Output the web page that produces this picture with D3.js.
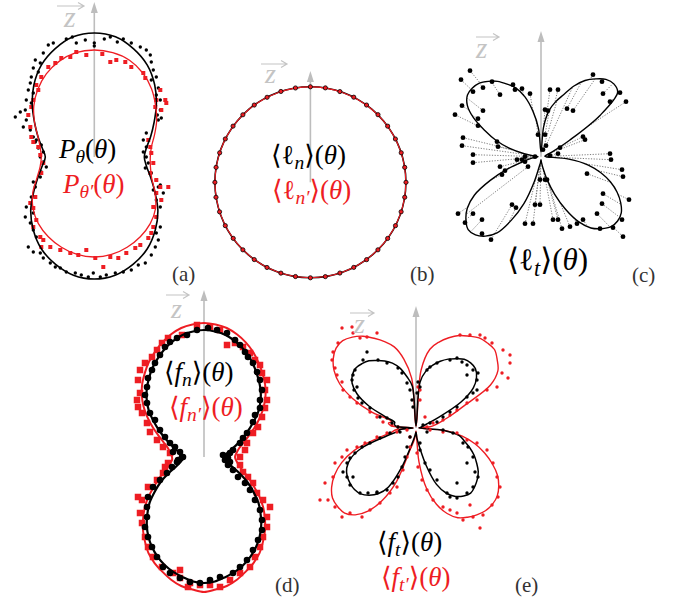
<!DOCTYPE html>
<html>
<head>
<meta charset="utf-8">
<script src="https://cdnjs.cloudflare.com/ajax/libs/d3/7.8.5/d3.min.js"></script>
<style>
    body { margin: 0; background: #fff; }
    svg { display: block; }
</style>
</head>
<body>
<script>
const RED = '#ee1d23'
const GREY = '#bdbdbd'
const SERIF = "'Liberation Serif', 'DejaVu Serif', serif"

// angle grids, degrees clockwise from the z axis
const angles10 = [0, 10, 20, 30, 40, 50, 60, 70, 80, 90, 100, 110, 120, 130, 140, 150, 160, 170,
    180, 190, 200, 210, 220, 230, 240, 250, 260, 270, 280, 290, 300, 310, 320, 330, 340, 350]
const angles5 = [0, 5, 10, 15, 20, 25, 30, 35, 40, 45, 50, 55, 60, 65, 70, 75, 80, 85,
    90, 95, 100, 105, 110, 115, 120, 125, 130, 135, 140, 145, 150, 155, 160, 165, 170, 175,
    180, 185, 190, 195, 200, 205, 210, 215, 220, 225, 230, 235, 240, 245, 250, 255, 260, 265,
    270, 275, 280, 285, 290, 295, 300, 305, 310, 315, 320, 325, 330, 335, 340, 345, 350, 355]
const angles9 = [0, 9, 18, 27, 36, 45, 54, 63, 72, 81, 90, 99, 108, 117, 126, 135, 144, 153, 162, 171,
    180, 189, 198, 207, 216, 225, 234, 243, 252, 261, 270, 279, 288, 297, 306, 315, 324, 333, 342, 351]

// (a) P_theta
const aBlackR = [124, 122, 115, 106, 94, 81, 69, 60, 53, 50, 53, 60, 70, 83, 95, 106, 114, 120,
    122, 120, 114, 106, 95, 83, 70, 60, 53, 49, 53, 60, 69, 81, 94, 106, 115, 122]
const aRedR = [107, 106, 103, 97, 89, 80, 72, 64, 58, 56, 57, 61, 70, 80, 87, 92, 96, 99,
    100, 99, 96, 92, 87, 80, 71, 61, 55, 53, 55, 60, 69, 79, 88, 96, 102, 106]
const aBlackPts = [[-46, 112], [-41, 114], [-28, 118], [-22, 120], [-18, 114], [-9, 117], [10, 118], [16, 120],
    [23, 115], [29, 118], [37, 114], [46, 110], [52, 107], [56, 102], [57, 95], [-51, 104], [-59, 97], [-54, 94],
    [-61, 89], [-63, 80], [-56, 85], [59, 87], [62, 80], [57, 77], [64, 69], [62, 62], [66, 57], [66, 47], [63, 42],
    [64, 37], [67, 39], [-64, 74], [-66, 67], [-61, 64], [-68, 57], [-63, 54], [-69, 47], [-79, 40], [-74, 45],
    [-68, 37], [-71, 30], [-64, 27], [-61, 20], [-58, 17], [-59, 15], [-53, 12], [-56, 9], [-51, 5], [-54, 0],
    [-51, -5], [-48, -10], [-53, -15], [-54, -20], [-61, -25], [-59, -30], [52, 24], [49, 17], [52, 10], [49, 5],
    [52, 0], [54, -6], [51, -11], [57, -16], [62, -23], [66, -28], [59, -33], [-63, -40], [-68, -50], [-61, -56],
    [-69, -60], [-64, -66], [-61, -73], [-58, -80], [-66, -90], [-61, -95], [-54, -96], [-51, -101], [-44, -106],
    [-39, -110], [-34, -111], [-28, -115], [-19, -116], [-13, -118], [-6, -120], [-1, -116], [6, -120], [12, -118],
    [21, -116], [29, -115], [37, -113], [44, -108], [51, -106], [57, -98], [61, -90], [64, -83], [62, -76],
    [66, -70], [62, -60], [66, -50], [62, -43], [69, -36], [64, -30], [0, 114], [0, 111]]
const aRedPts = [[-18, 105], [-8, 102], [8, 103], [16, 95], [22, 97], [31, 95], [37, 90], [-24, 100], [-33, 99],
    [-39, 94], [-46, 90], [49, 84], [51, 79], [-53, 80], [-58, 72], [-56, 67], [66, 67], [71, 57], [72, 54],
    [67, 47], [62, 57], [61, 50], [-61, 57], [-63, 50], [-66, 42], [-64, 30], [-63, 20], [-61, 15], [-56, 10],
    [-54, 2], [-51, -6], [-53, -16], [54, 17], [56, 10], [57, 4], [59, -6], [56, -16], [62, -23], [66, -30],
    [74, -30], [62, -36], [67, -43], [59, -50], [-59, -40], [-64, -46], [-61, -51], [-58, -63], [-61, -70],
    [-54, -80], [-51, -83], [-44, -90], [-34, -93], [-24, -96], [-16, -98], [-8, -93], [1, -101], [9, -110],
    [16, -100], [24, -101], [32, -96], [41, -91], [46, -88], [54, -81], [57, -76], [59, -70], [62, -60], [-53, -90]]

// (b) <l_n>
const bBlackR = [95.5, 95.5, 95.5, 95.5, 95.5, 95.5, 95.5, 95.5, 95.5, 95.5, 95.5, 95.5, 95.5, 95.5, 95.5, 95.5, 95.5, 95.5,
    95.5, 95.5, 95.5, 95.5, 95.5, 95.5, 95.5, 95.5, 95.5, 95.5, 95.5, 95.5, 95.5, 95.5, 95.5, 95.5, 95.5, 95.5]
const bRedR = [95.4, 95.4, 95.4, 95.4, 95.4, 95.4, 95.4, 95.4, 95.4, 95.4, 95.4, 95.4, 95.4, 95.4, 95.4, 95.4, 95.4, 95.4,
    95.4, 95.4, 95.4, 95.4, 95.4, 95.4, 95.4, 95.4, 95.4, 95.4, 95.4, 95.4, 95.4, 95.4, 95.4, 95.4, 95.4, 95.4]
const bPtsR = [95.5, 95.6, 95.4, 95.5, 95.5, 95.6, 95.5, 95.4, 95.5, 95.5, 95.6, 95.5, 95.4, 95.5, 95.5, 95.5, 95.6, 95.5, 95.4, 95.5,
    95.5, 95.4, 95.5, 95.6, 95.5, 95.5, 95.4, 95.5, 95.5, 95.6, 95.5, 95.5, 95.4, 95.5, 95.6, 95.5, 95.5, 95.4, 95.5, 95.5]

// (c) <l_t>
const cCurveR = [5, 30, 47, 57, 66, 78, 88, 95, 101, 103, 100, 72, 33, 15, 8, 5, 4, 4,
    5, 28, 48, 62, 74, 84, 92, 98, 100, 99, 94, 87, 75, 58, 40, 24, 12, 6,
    3, 6, 10, 26, 50, 70, 88, 97, 102, 103, 98, 90, 77, 56, 35, 18, 10, 5,
    3, 6, 17, 33, 48, 62, 78, 90, 96, 97, 96, 92, 87, 80, 73, 62, 46, 28]
const cPts = [[-71, 86], [-80, 77], [-49, 75], [-58, 69], [-68, 65], [-41, 62], [-28, 72], [-26, 67], [-19, 68],
    [-11, 63], [-79, 51], [-86, 42], [-63, 38], [-58, 46], [-63, 31], [-78, 19], [-79, 11], [-44, 15], [-43, 10],
    [-68, 2], [-68, -6], [-16, 0], [-24, -3], [-6, 0], [-3, 22], [4, 22], [5, 11], [2, 7], [4, 47], [7, 46],
    [9, 67], [17, 67], [26, 48], [32, 46], [52, 82], [61, 75], [62, 63], [69, 55], [79, 64], [85, 55], [42, 20],
    [44, 17], [19, 9], [17, 3], [9, 1], [69, 3], [70, -3], [46, -17], [81, -13], [82, -20], [62, -37], [61, -47],
    [56, -57], [88, -43], [81, -63], [82, -80], [72, -71], [59, -72], [42, -63], [36, -67], [29, -70], [21, -72],
    [12, -63], [17, -63], [6, -23], [-1, -23], [-6, -48], [-1, -48], [-16, -67], [-8, -67], [-25, -51], [-29, -48],
    [-50, -83], [-59, -77], [-68, -57], [-59, -63], [-76, -66], [-83, -57], [-39, -18], [-41, -10], [-36, -14],
    [-13, -10], [-16, -5], [-19, -3], [4, -23]]

// (d) <f_n>
const dBlackR = [127, 126, 124, 120, 115, 109, 102, 95, 88, 80, 71, 60, 50, 41, 34, 28, 24, 21,
    20, 21, 23, 26, 31, 40, 50, 60, 71, 80, 89, 97, 104, 110, 115, 119, 122, 125,
    126, 125, 122, 119, 115, 110, 104, 97, 89, 80, 71, 60, 50, 40, 31, 26, 23, 21,
    21, 22, 25, 29, 35, 42, 51, 61, 72, 81, 89, 96, 103, 109, 115, 120, 124, 126]
const dRedR = [134, 133, 131, 127, 122, 116, 109, 102, 95, 87, 78, 68, 58, 49, 42, 37, 34, 32,
    31, 32, 34, 37, 42, 49, 57, 67, 77, 86, 95, 103, 111, 117, 122, 127, 131, 133,
    135, 133, 131, 127, 122, 117, 111, 103, 95, 86, 77, 67, 57, 49, 42, 37, 34, 32,
    32, 33, 35, 38, 43, 50, 59, 69, 79, 88, 96, 103, 110, 116, 122, 127, 131, 133]
const dBlackPts = [[-27, 119], [-17, 122], [-7, 127], [4, 129], [13, 127], [23, 124], [31, 117], [36, 112], [41, 105],
    [44, 100], [49, 94], [53, 85], [56, 77], [58, 67], [56, 57], [56, 49], [51, 42], [49, 35], [43, 24], [39, 19],
    [36, 14], [29, 7], [26, 4], [23, 0], [21, -3], [24, -8], [29, -13], [34, -20], [41, -26], [46, -33], [51, -43],
    [56, -53], [58, -63], [58, -73], [54, -83], [49, -93], [43, -103], [36, -110], [29, -116], [16, -120], [6, -123],
    [-4, -126], [-14, -125], [-24, -121], [-34, -116], [-41, -110], [-47, -100], [-52, -90], [-56, -80], [-59, -70],
    [-57, -60], [-57, -50], [-56, -40], [-51, -30], [-44, -23], [-37, -16], [-32, -10], [-27, -5], [-22, 0], [-24, 5],
    [-29, 10], [-34, 14], [-39, 20], [-44, 27], [-49, 37], [-54, 44], [-57, 54], [-59, 62], [-57, 70], [-56, 79],
    [-52, 87], [-49, 94], [-44, 102], [-39, 110], [-34, 115], [-21, 0], [-26, -3], [-31, 5], [24, -1], [26, -5], [19, 2]]
const dRedPts = [[-36, 119], [-22, 122], [-7, 132], [6, 130], [16, 127], [23, 112], [31, 114], [39, 110], [46, 104],
    [51, 97], [56, 92], [58, 84], [63, 77], [61, 67], [63, 57], [61, 49], [58, 40], [54, 30], [49, 24], [43, 14],
    [41, 7], [36, 0], [36, -8], [39, -15], [44, -20], [49, -26], [53, -36], [59, -43], [66, -50], [63, -60], [63, -70],
    [59, -80], [56, -90], [51, -100], [46, -110], [36, -116], [26, -123], [16, -130], [6, -128], [-4, -128], [-14, -126],
    [-24, -121], [-31, -116], [-42, -110], [-51, -100], [-56, -90], [-59, -80], [-62, -66], [-64, -56], [-62, -43],
    [-66, -40], [-56, -30], [-47, -23], [-41, -16], [-39, -10], [-36, -6], [-34, 4], [-41, 10], [-47, 17], [-54, 25],
    [-57, 34], [-62, 44], [-66, 50], [-67, 57], [-64, 64], [-66, 77], [-64, 87], [-59, 94], [-52, 100], [-47, 107],
    [-42, 114], [-24, -113], [-16, -130]]

// (e) <f_t>
const eBlackR = [2, 46, 58, 65, 71, 76, 80, 84, 85, 84, 79, 70, 52, 24, 11, 7, 5, 4,
    3, 28, 44, 50, 57, 64, 70, 76, 80, 83, 85, 83, 79, 72, 60, 38, 18, 10,
    4, 6, 10, 18, 42, 65, 76, 82, 86, 87, 86, 84, 80, 72, 57, 30, 18, 16,
    3, 20, 22, 22, 32, 52, 68, 78, 83, 85, 84, 82, 78, 74, 69, 62, 52, 42]
const eRedR = [2, 58, 80, 89, 96, 102, 106, 110, 111, 111, 106, 100, 86, 54, 38, 27, 20, 14,
    3, 30, 47, 61, 73, 84, 94, 101, 106, 108, 108, 106, 103, 99, 91, 79, 62, 34,
    3, 8, 14, 22, 57, 80, 96, 106, 111, 111, 109, 103, 94, 82, 66, 40, 25, 20,
    3, 25, 28, 25, 48, 70, 88, 100, 108, 113, 114, 111, 106, 99, 92, 84, 70, 50]
const eBlackPts = [[-49, 76], [-38, 68], [-61, 58], [-63, 53], [-64, 48], [-59, 41], [-62, 38], [-58, 30], [-54, 25],
    [-46, 20], [-36, 11], [-29, 10], [-24, 5], [-18, 1], [-53, 68], [-29, 65], [-18, 60], [-14, 55], [-9, 45], [-6, 38],
    [-4, 28], [-3, 21], [34, 68], [41, 70], [46, 66], [51, 63], [57, 58], [62, 55], [61, 48], [61, 38], [51, 53],
    [57, 35], [51, 31], [41, 21], [34, 16], [27, 11], [21, 6], [14, 5], [7, 3], [11, 58], [14, 61], [21, 65], [2, 46],
    [4, 41], [1, 35], [11, -4], [27, -2], [37, -5], [47, -15], [52, -19], [57, -29], [59, -44], [62, -49], [57, -59],
    [51, -65], [41, -70], [34, -69], [31, -65], [21, -52], [14, -42], [9, -35], [4, -22], [4, -15], [41, -55], [51, -35],
    [-6, -9], [-9, -19], [-11, -29], [-14, -39], [-18, -49], [-23, -55], [-29, -62], [-39, -65], [-48, -65], [-56, -65],
    [-66, -57], [-69, -49], [-73, -44], [-69, -35], [-66, -30], [-61, -25], [-54, -19], [-46, -15], [-36, -10], [-26, -5],
    [-16, -4], [-63, -49], [-39, -64]]
const eRedPts = [[-64, 101], [-74, 100], [-63, 95], [-49, 91], [-78, 85], [-83, 76], [-84, 68], [-81, 60], [-79, 53],
    [-74, 46], [-73, 38], [-66, 31], [-59, 25], [-46, 16], [-39, 11], [-33, 6], [-24, 3], [-18, 1], [-39, 95], [-56, 90],
    [44, 93], [54, 93], [64, 93], [69, 90], [76, 85], [87, 78], [94, 73], [94, 65], [92, 50], [86, 55], [81, 41],
    [71, 38], [61, 28], [51, 25], [41, 18], [34, 13], [27, 8], [17, 5], [11, 1], [9, 11], [4, 28], [4, 38], [2, 41],
    [14, -2], [27, -4], [41, -5], [51, -12], [61, -15], [71, -22], [77, -35], [81, -49], [84, -59], [82, -69], [76, -77],
    [67, -87], [64, -100], [57, -89], [47, -92], [41, -85], [34, -82], [27, -79], [17, -72], [11, -62], [6, -52],
    [2, -39], [1, -25], [54, -77], [-6, -9], [-6, -19], [-9, -29], [-13, -42], [-19, -59], [-26, -65], [-36, -75],
    [-46, -82], [-54, -89], [-66, -85], [-74, -89], [-81, -79], [-88, -72], [-96, -72], [-91, -55], [-83, -49],
    [-81, -35], [-74, -29], [-69, -22], [-59, -19], [-51, -15], [-39, -9], [-29, -5], [-19, -4], [-9, -2]]

let svg = d3.select('body').append('svg')
    .attr('width', 679)
    .attr('height', 606)
    .attr('font-family', SERIF)

let makePanel = (cx, cy) => {
    let g = svg.append('g')
    let x = d3.scaleLinear().domain([-100, 100]).range([cx - 100, cx + 100])
    let y = d3.scaleLinear().domain([-100, 100]).range([cy + 100, cy - 100])
    let r = d3.scaleLinear().domain([0, 100]).range([0, 100])
    return { g, x, y, r, cx, cy }
}

let drawAxis = (p, tipY) => {
    p.g.append('line')
        .attr('x1', p.cx).attr('x2', p.cx).attr('y1', p.cy).attr('y2', tipY + 8)
        .attr('stroke', GREY).attr('stroke-width', 1.6)
    p.g.append('path')
        .attr('d', `M${p.cx},${tipY} L${p.cx - 3.5},${tipY + 11} L${p.cx + 3.5},${tipY + 11} Z`)
        .attr('fill', GREY)
}

let drawCurve = (p, angles, radii, color, width) => {
    let line = d3.lineRadial()
        .angle((d, i) => angles[i] * Math.PI / 180)
        .radius(d => p.r(d))
        .curve(d3.curveCatmullRomClosed.alpha(0.5))
    p.g.append('path')
        .attr('transform', `translate(${p.cx},${p.cy})`)
        .attr('d', line(radii))
        .attr('fill', 'none')
        .attr('stroke', color)
        .attr('stroke-width', width)
        .attr('stroke-linejoin', 'round')
}

let drawDots = (p, pts, color, rad) => {
    p.g.append('g').selectAll('circle')
        .data(pts)
        .join('circle')
        .attr('cx', d => p.x(d[0]))
        .attr('cy', d => p.y(d[1]))
        .attr('r', rad)
        .attr('fill', color)
}

let drawSquares = (p, pts, color, s) => {
    p.g.append('g').selectAll('rect')
        .data(pts)
        .join('rect')
        .attr('x', d => p.x(d[0]) - s / 2)
        .attr('y', d => p.y(d[1]) - s / 2)
        .attr('width', s)
        .attr('height', s)
        .attr('fill', color)
}

// radius of a tabulated curve at any angle (linear between grid angles)
let curveAt = (angles, radii, deg) => {
    let n = angles.length
    for (let i = 0; i < n; i++) {
        let a0 = angles[i], a1 = i + 1 < n ? angles[i + 1] : 360
        if (deg >= a0 && deg <= a1) {
            let t = (deg - a0) / (a1 - a0)
            return radii[i] * (1 - t) + radii[(i + 1) % n] * t
        }
    }
    return radii[0]
}

let zLabel = (x, y, size, ax0, ax1, ay) => {
    svg.append('text')
        .attr('x', x).attr('y', y)
        .attr('font-family', SERIF)
        .attr('font-size', size)
        .attr('font-style', 'italic')
        .attr('fill', '#c4c4c4')
        .text('z')
    svg.append('path')
        .attr('d', `M${ax0},${ay} H${ax1} M${ax1 - 6},${ay - 3.5} L${ax1},${ay} L${ax1 - 6},${ay + 3.5}`)
        .attr('fill', 'none')
        .attr('stroke', '#c4c4c4')
        .attr('stroke-width', 1.2)
}

// parts: [string, flags] flags: i = italic, s = subscript
let mathText = (x, y, size, color, parts) => {
    let t = svg.append('text')
        .attr('x', x).attr('y', y)
        .attr('font-family', SERIF)
        .attr('font-size', size)
        .attr('fill', color)
    let down = false
    parts.forEach(([s, f]) => {
        let ts = t.append('tspan').text(s)
        if (f.includes('i')) ts.attr('font-style', 'italic')
        if (f.includes('s')) {
            ts.attr('font-size', size * 0.72)
            if (!down) { ts.attr('dy', size * 0.2); down = true }
        } else if (down) {
            ts.attr('dy', -size * 0.2); down = false
        }
    })
}

let letter = (x, y, s) => {
    svg.append('text')
        .attr('x', x).attr('y', y)
        .attr('font-family', SERIF)
        .attr('font-size', 21)
        .attr('fill', '#333')
        .text(s)
}

// ---- (a)
let pa = makePanel(94.3, 157)
drawAxis(pa, 2)
drawDots(pa, aBlackPts, '#000', 1.7)
drawSquares(pa, aRedPts, RED, 4)
drawCurve(pa, angles10, aBlackR, '#000', 1.6)
drawCurve(pa, angles10, aRedR, RED, 1.3)
zLabel(64, 27, 30, 57, 84, 6)
mathText(59, 158, 27, '#000', [['P', 'i'], ['θ', 'is'], ['(', ''], ['θ', 'i'], [')', '']])
mathText(63, 193, 27, RED, [['P', 'i'], ['θ′', 'is'], ['(', ''], ['θ', 'i'], [')', '']])
letter(172, 281, '(a)')

// ---- (b)
let pb = makePanel(310.4, 182.3)
drawAxis(pb, 71)
drawCurve(pb, angles10, bBlackR, '#000', 1.6)
drawCurve(pb, angles10, bRedR, RED, 1.1)
pb.g.append('g').selectAll('circle')
    .data(angles9)
    .join('circle')
    .attr('cx', (d, i) => pb.cx + d3.pointRadial(d * Math.PI / 180, pb.r(bPtsR[i]))[0])
    .attr('cy', (d, i) => pb.cy + d3.pointRadial(d * Math.PI / 180, pb.r(bPtsR[i]))[1])
    .attr('r', 2.1)
    .attr('fill', RED)
    .attr('stroke', '#000')
    .attr('stroke-width', 0.8)
zLabel(265, 83, 28, 261, 287, 64)
mathText(271, 164, 27, '#000', [['⟨', ''], ['ℓ', ''], ['n', 'is'], ['⟩', ''], ['(', ''], ['θ', 'i'], [')', '']])
mathText(272, 199, 27, RED, [['⟨', ''], ['ℓ', ''], ['n′', 'is'], ['⟩', ''], ['(', ''], ['θ', 'i'], [')', '']])
letter(410, 281, '(b)')

// ---- (c)
let pc = makePanel(541, 156.7)
drawAxis(pc, 31)
pc.g.append('g').selectAll('line')
    .data(cPts)
    .join('line')
    .each(function (d) {
        let th = Math.atan2(d[0], d[1])
        let deg = (th * 180 / Math.PI + 360) % 360
        let rc = curveAt(angles5, cCurveR, deg)
        let q = d3.pointRadial(th, pc.r(rc))
        d3.select(this)
            .attr('x1', pc.x(d[0])).attr('y1', pc.y(d[1]))
            .attr('x2', pc.cx + q[0]).attr('y2', pc.cy + q[1])
    })
    .attr('stroke', '#6e6e6e')
    .attr('stroke-width', 0.9)
    .attr('stroke-dasharray', '1.2,1.5')
drawCurve(pc, angles5, cCurveR, '#000', 1.4)
drawDots(pc, cPts, '#000', 2.4)
zLabel(476, 58, 29, 476, 499, 37)
mathText(507, 270, 31, '#000', [['⟨', ''], ['ℓ', ''], ['t', 'is'], ['⟩', ''], ['(', ''], ['θ', 'i'], [')', '']])
letter(632, 282, '(c)')

// ---- (d)
let pd = makePanel(204, 457)
drawAxis(pd, 290)
drawCurve(pd, angles5, dRedR, RED, 2)
drawSquares(pd, dRedPts, RED, 6.5)
drawDots(pd, dBlackPts, '#000', 3.3)
drawCurve(pd, angles5, dBlackR, '#000', 2.2)
zLabel(171, 318, 28, 166, 189, 295)
mathText(164, 381, 27, '#000', [['⟨', ''], ['f', 'i'], ['n', 'is'], ['⟩', ''], ['(', ''], ['θ', 'i'], [')', '']])
mathText(169, 416, 27, RED, [['⟨', ''], ['f', 'i'], ['n′', 'is'], ['⟩', ''], ['(', ''], ['θ', 'i'], [')', '']])
letter(275, 592, '(d)')

// ---- (e)
let pe = makePanel(416, 428)
drawAxis(pe, 306)
drawCurve(pe, angles5, eRedR, RED, 1.4)
drawCurve(pe, angles5, eBlackR, '#000', 1.5)
drawDots(pe, eRedPts, RED, 1.7)
drawDots(pe, eBlackPts, '#000', 1.7)
zLabel(354, 333, 28, 350, 374, 313)
mathText(377, 551, 27, '#000', [['⟨', ''], ['f', 'i'], ['t', 'is'], ['⟩', ''], ['(', ''], ['θ', 'i'], [')', '']])
mathText(381, 586, 27, RED, [['⟨', ''], ['f', 'i'], ['t′', 'is'], ['⟩', ''], ['(', ''], ['θ', 'i'], [')', '']])
letter(515, 592, '(e)')
</script>
</body>
</html>
